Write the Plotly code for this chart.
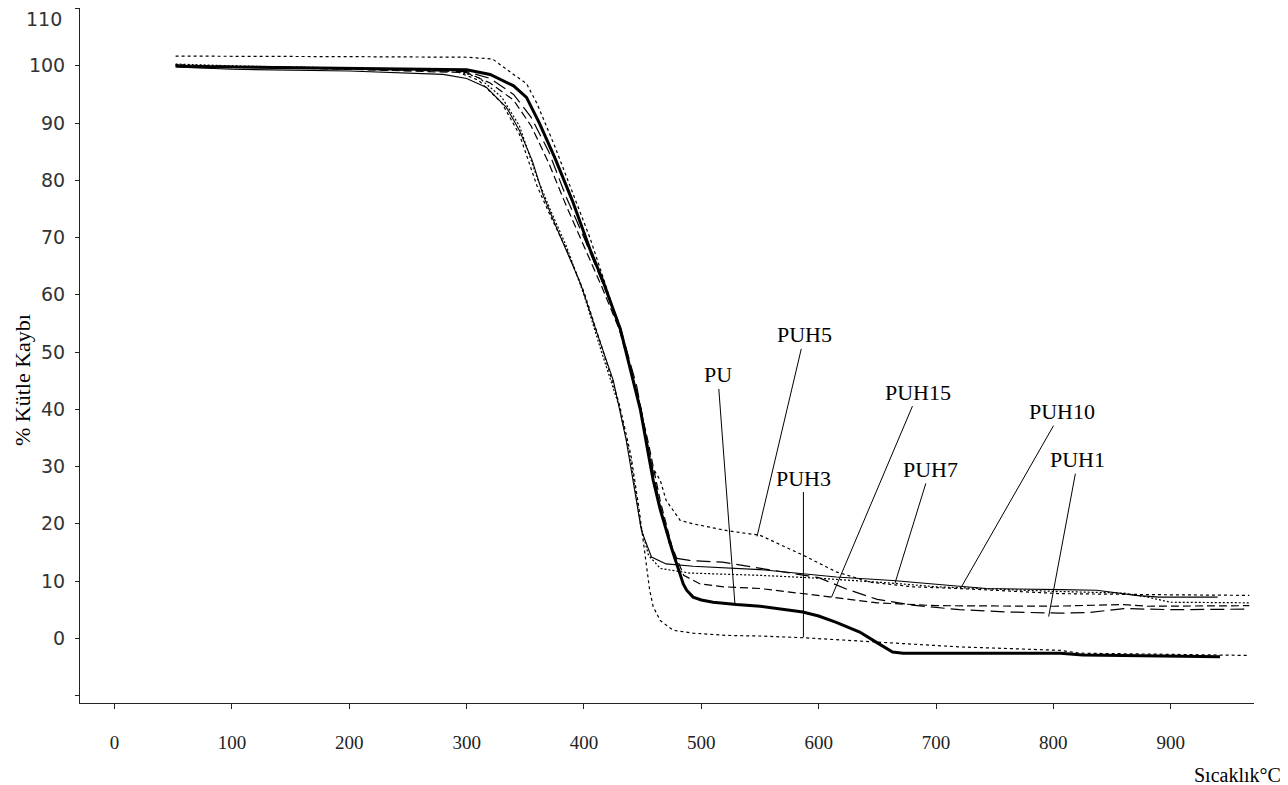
import plotly.graph_objects as go

# ---- data (temperature °C, % mass) ----
T_PU = [52, 60, 100, 150, 200, 260, 300, 320, 340, 351, 362, 375, 390, 405, 416, 431, 448, 455, 459, 465, 470, 475, 479, 484.6, 487.5, 493, 500, 510, 530, 550, 586.5, 600, 615, 635, 650, 663, 672, 700, 806, 825, 880, 920, 942]
V_PU = [100, 99.9, 99.8, 99.7, 99.6, 99.5, 99.3, 98.5, 96.5, 94.5, 90, 84, 76.5, 68, 62.5, 54, 40, 32, 27.6, 22.5, 18.8, 15.5, 13, 9.5, 8.4, 7.2, 6.7, 6.3, 5.9, 5.6, 4.6, 3.9, 2.8, 1.1, -0.8, -2.4, -2.6, -2.6, -2.6, -2.9, -3.0, -3.1, -3.2]

T_PUH10 = [52, 100, 200, 280, 300, 317, 334, 345, 356, 365, 375, 385, 397, 410, 425, 436, 442, 449, 457.5, 470, 493, 527, 550, 615, 663, 720, 743, 806, 837, 870, 890, 940]
V_PUH10 = [99.8, 99.4, 99.1, 98.5, 97.8, 96.2, 92.7, 88.7, 83.4, 77.5, 72.5, 67.7, 62, 54, 45, 34.6, 27.6, 18.8, 14.2, 13, 12.6, 12.2, 12, 10.7, 10.1, 9.1, 8.7, 8.5, 8.4, 7.5, 7.2, 7.2]

T_PUH3 = [52, 100, 200, 290, 310, 330, 345, 360, 372, 385, 400, 415, 430, 440, 447, 450.5, 453, 456, 459, 465, 476, 493, 522, 550, 587, 644, 663, 720, 806, 822, 900, 967]
V_PUH3 = [100.2, 99.9, 99.6, 99.1, 97.5, 93.5, 88, 79, 73.5, 68, 60.5, 51, 41, 32, 22.5, 17, 13, 8.4, 5.5, 3.1, 1.4, 0.9, 0.5, 0.4, 0.1, -0.6, -0.9, -1.5, -2.1, -2.6, -2.8, -3.0]

T_PUH7 = [52, 100, 200, 290, 310, 330, 345, 360, 372, 385, 400, 415, 430, 440, 448, 455, 465, 490, 550, 600, 665, 700, 800, 860, 880, 900, 967]
V_PUH7 = [100.3, 100, 99.6, 99.2, 98, 94.5, 89.5, 80.5, 74.5, 68.5, 60, 50, 40.5, 31, 20, 14.5, 12.2, 11.4, 11, 10.5, 9.6, 9, 8.2, 7.9, 7.2, 6.3, 6.2]

T_PUH5 = [52, 100, 200, 300, 322, 340, 351, 360, 375, 390, 405, 418, 432, 448, 458, 465, 470, 482, 493, 522, 550, 587, 615, 644, 680, 720, 806, 900, 967]
V_PUH5 = [101.7, 101.7, 101.6, 101.5, 101.2, 98.5, 96.9, 93.4, 86, 78, 70, 62, 53, 40.5, 30, 27.6, 24.1, 20.6, 20, 18.8, 18, 14.5, 11.6, 9.8, 9, 8.7, 7.8, 7.6, 7.5]

T_PUH1 = [52, 100, 200, 300, 320, 340, 355, 370, 385, 400, 415, 430, 445, 455, 465, 472, 478, 490, 518, 556, 600, 625, 650, 680, 720, 760, 806, 830, 860, 900, 967]
V_PUH1 = [100.1, 99.9, 99.5, 99, 97.8, 95, 91, 85, 77, 70, 62.5, 55, 44, 33, 23, 17, 14, 13.6, 13.3, 12, 10.6, 8.5, 6.8, 5.8, 5, 4.6, 4.4, 4.5, 5.2, 5.0, 5.1]

T_PUH15 = [52, 100, 200, 300, 320, 340, 355, 370, 385, 400, 415, 430, 445, 455, 465, 475, 485, 499, 519, 550, 580, 611, 650, 700, 800, 860, 880, 967]
V_PUH15 = [100, 99.8, 99.4, 98.8, 97, 94, 89.5, 83, 75.5, 68.5, 61.5, 54, 43, 34, 24, 16, 11, 9.5, 9, 8.7, 8, 7.2, 6.2, 5.7, 5.6, 5.9, 5.6, 5.7]

X_TICKS = [0, 100, 200, 300, 400, 500, 600, 700, 800, 900]
Y_TICKS = [-10, 0, 10, 20, 30, 40, 50, 60, 70, 80, 90, 100, 110]
Y_TICKTEXT = ["", "0", "10", "20", "30", "40", "50", "60", "70", "80", "90", "100", ""]
TOP_TICK_LABEL = "110"

LABELS = ["PUH5", "PU", "PUH3", "PUH15", "PUH7", "PUH10", "PUH1"]
LABEL_T = [588, 514, 587, 685, 695, 807, 821]
LABEL_V = [53, 46, 28, 43, 29.5, 39.6, 31.2]
TARGET_T = [547.5, 528.6, 587, 611, 665, 722, 796]
TARGET_V = [17.8, 6.1, 0.2, 7.2, 9.6, 9.1, 3.8]

SERIF = "Liberation Serif, Times New Roman, serif"
SANS = "DejaVu Sans, Verdana, sans-serif"

series = [
    ("PUH5", T_PUH5, V_PUH5, 1.2, "3px,3px"),
    ("PUH3", T_PUH3, V_PUH3, 1.2, "3px,3px"),
    ("PUH7", T_PUH7, V_PUH7, 1.2, "2px,2px"),
    ("PUH10", T_PUH10, V_PUH10, 1.1, "solid"),
    ("PUH1", T_PUH1, V_PUH1, 1.2, "14px,6px"),
    ("PUH15", T_PUH15, V_PUH15, 1.2, "8px,4px"),
    ("PU", T_PU, V_PU, 3, "solid"),
]

fig = go.Figure()
for name, t, v, w, d in series:
    fig.add_trace(go.Scatter(x=t, y=v, mode="lines", name=name,
                             line=dict(color="black", width=w, dash=d)))

annotations = []
for lab, lt, lv, tt, tv in zip(LABELS, LABEL_T, LABEL_V, TARGET_T, TARGET_V):
    annotations.append(dict(x=tt, y=tv, ax=lt, ay=lv, xref="x", yref="y",
                            axref="x", ayref="y", text=lab, showarrow=True,
                            arrowhead=0, arrowwidth=1, arrowcolor="black",
                            standoff=0, startstandoff=0,
                            font=dict(family=SERIF, size=22, color="black")))
# top y tick label (kept inside the page, as in the reference)
annotations.append(dict(x=-0.0135, y=1, xref="paper", yref="paper",
                        xanchor="right", yanchor="middle", yshift=-11,
                        showarrow=False, text=TOP_TICK_LABEL,
                        font=dict(family=SANS, size=19, color="#333")))
annotations.append(dict(x=1.0247, y=-0.1036, xref="paper", yref="paper",
                        xanchor="right", yanchor="middle", showarrow=False,
                        text="Sıcaklık°C",
                        font=dict(family=SERIF, size=20, color="black")))
annotations.append(dict(x=-0.0494, y=0.4647, xref="paper", yref="paper",
                        xanchor="center", yanchor="middle", showarrow=False,
                        textangle=-90, text="% Kütle Kaybı",
                        font=dict(family=SERIF, size=22, color="black")))

fig.update_layout(
    width=1280, height=777,
    margin=dict(l=72, r=34, t=0, b=82),
    paper_bgcolor="white", plot_bgcolor="white",
    showlegend=False,
    annotations=annotations,
    xaxis=dict(range=[-29.5, 971], showgrid=False, zeroline=False,
               showline=True, linecolor="#222", linewidth=1,
               ticks="outside", ticklen=5, tickcolor="#222",
               tickvals=X_TICKS, ticklabelstandoff=17,
               tickfont=dict(family=SERIF, size=19, color="#222")),
    yaxis=dict(range=[-11.3, 110.1], showgrid=False, zeroline=False,
               showline=True, linecolor="#222", linewidth=1,
               ticks="outside", ticklen=4, tickcolor="#222",
               tickvals=Y_TICKS, ticktext=Y_TICKTEXT, ticklabelstandoff=6,
               tickfont=dict(family=SANS, size=19, color="#333")),
)

fig.write_html("out.html")
